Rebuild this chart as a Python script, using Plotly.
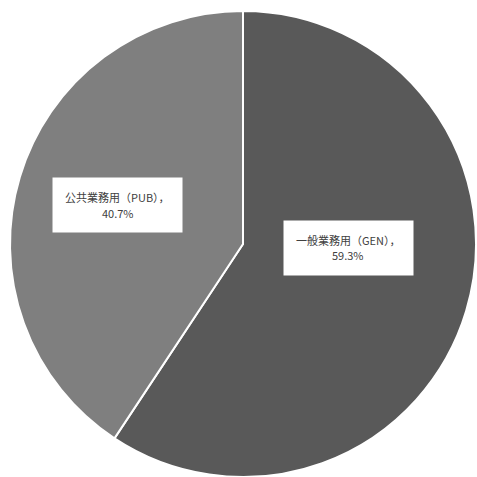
import plotly.graph_objects as go

labels = ["一般業務用（GEN）", "公共業務用（PUB）"]
values = [59.3, 40.7]
colors = ["#595959", "#7f7f7f"]

fig = go.Figure(
    go.Pie(
        labels=labels,
        values=values,
        sort=False,
        direction="clockwise",
        rotation=0,
        marker=dict(colors=colors, line=dict(color="white", width=2)),
        textinfo="none",
        hoverinfo="label+percent",
        domain=dict(x=[10 / 477, 476 / 477], y=[0, 1 - 11 / 477]),
        showlegend=False,
    )
)

H = 477.0
total = sum(values)
font = dict(family="Noto Sans CJK JP", size=11, color="#404040")
# label box centres in pixels from the top-left corner
label_pos = [(348, 247.5), (117.5, 205)]
for lab, val, (cx, cy) in zip(labels, values, label_pos):
    # white label box
    fig.add_annotation(
        x=cx / H, y=1 - cy / H, xref="paper", yref="paper",
        xanchor="center", yanchor="middle",
        text=" ", showarrow=False, bgcolor="white",
        width=129, height=54, borderpad=0, font=font,
    )
    # two lines of label text: category name and share
    lines = [f"{lab}，", f"{val / total * 100:.1f}%"]
    for i, line in enumerate(lines):
        fig.add_annotation(
            x=cx / H, y=1 - (cy - 8 + 16 * i) / H, xref="paper", yref="paper",
            xanchor="center", yanchor="middle",
            text=line, showarrow=False, font=font,
        )

fig.update_layout(
    width=477, height=477,
    margin=dict(l=0, r=0, t=0, b=0),
    paper_bgcolor="white",
    plot_bgcolor="white",
)

fig.write_html("out.html")
